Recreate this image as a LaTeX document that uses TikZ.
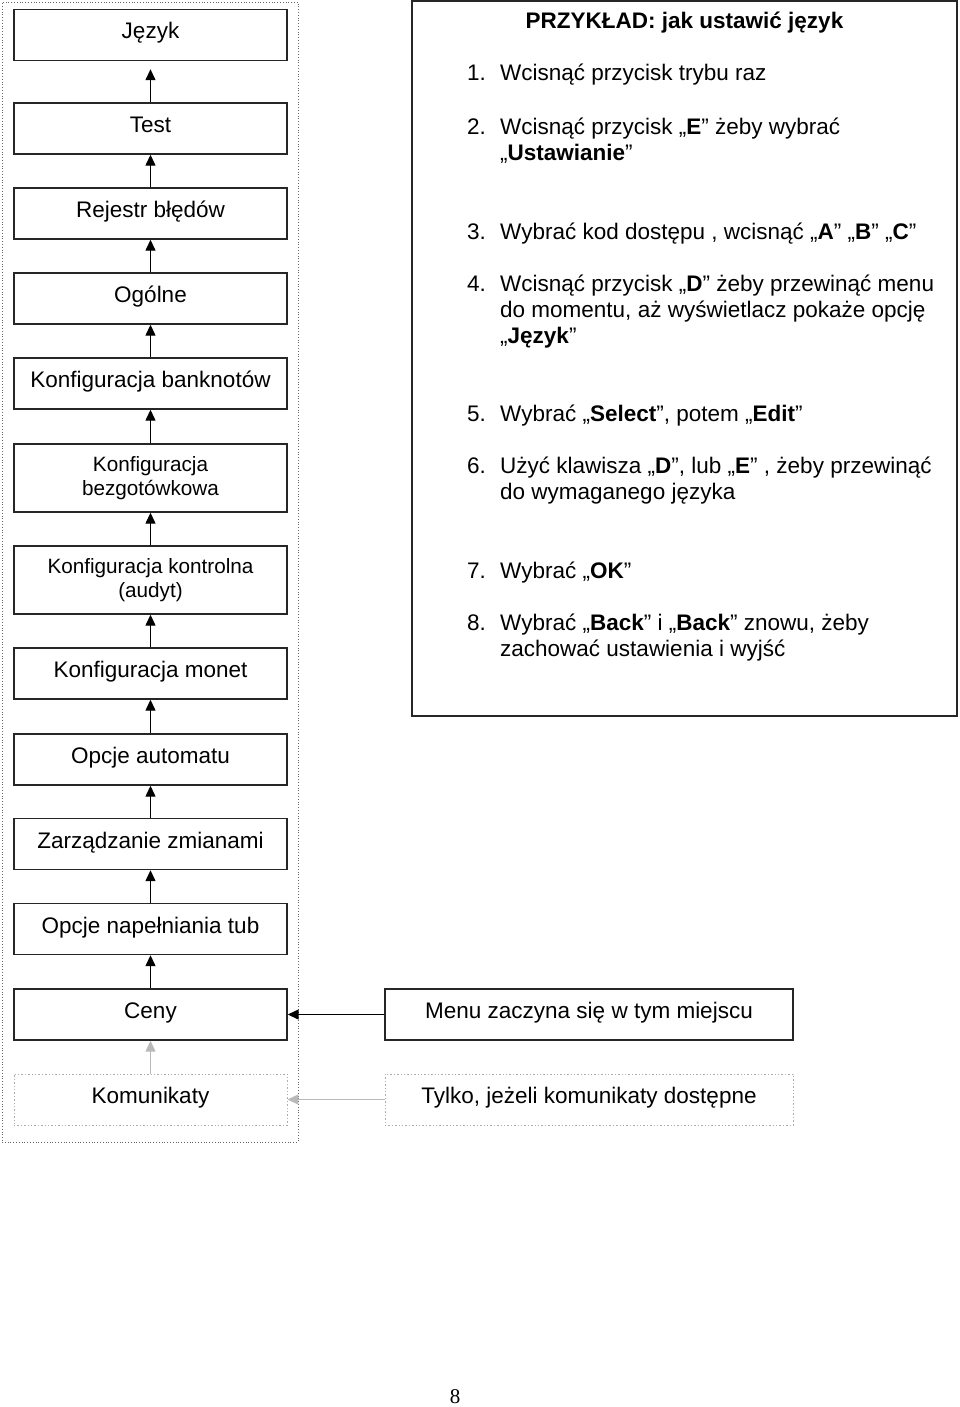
\documentclass[tikz,border=0pt]{standalone}
\usepackage{fontspec}
\setmainfont{Liberation Sans}
\newfontfamily\pnserif{Liberation Serif}
\usetikzlibrary{arrows.meta}
\begin{document}
\begin{tikzpicture}[x=1pt,y=-1pt,
  basebox/.style={draw=black!85, line width=1.4pt, minimum width=273pt, minimum height=51pt,
    inner sep=0pt, align=center},
  box/.style={basebox, text height=16pt, text depth=8pt, font=\fontsize{22.5}{26}\selectfont},
  tallbox/.style={basebox, minimum height=68pt, font=\fontsize{20.7}{24}\selectfont},
  ghostbox/.style={box, draw=gray!65, dotted, line width=0.9pt},
  notebox/.style={box, minimum width=408pt},
  arr/.style={line width=1.3pt, -{Triangle[width=10pt,length=11pt]}},
  garr/.style={arr, draw=gray!55},
  frame/.style={draw=gray!80!black, dotted, line width=0.8pt, inner sep=0pt},
  panelbox/.style={draw=black!85, line width=2pt, inner sep=0pt},
  txt/.style={anchor=west, inner sep=0pt, text height=16pt, text depth=0pt,
    font=\fontsize{22.5}{26}\selectfont},
]
\useasboundingbox (0,0) rectangle (960,1407);

% outer dotted frame
\node[frame, minimum width=296pt, minimum height=1140pt] (outer) at (150,572) {};

% left column
\node[box] (jezyk) at (150.5,35) {Język};
\node[box] (test) at (150.5,128.5) {Test};
\node[box] (rejestr) at (150.5,213.5) {Rejestr błędów};
\node[box] (ogolne) at (150.5,298.5) {Ogólne};
\node[box] (bank) at (150.5,383.5) {Konfiguracja banknotów};
\node[tallbox] (bezgot) at (150.5,478) {Konfiguracja\\bezgotówkowa};
\node[tallbox] (kontr) at (150.5,580) {Konfiguracja kontrolna\\(audyt)};
\node[box] (monet) at (150.5,673.5) {Konfiguracja monet};
\node[box] (opcje) at (150.5,759.5) {Opcje automatu};
\node[box] (zarz) at (150.5,844) {Zarządzanie zmianami};
\node[box] (tub) at (150.5,929) {Opcje napełniania tub};
\node[box] (ceny) at (150.5,1014.5) {Ceny};
\node[ghostbox] (komun) at (150.5,1099.5) {Komunikaty};

% right notes
\node[notebox] (menu) at (589,1014.5) {Menu zaczyna się w tym miejscu};
\node[ghostbox, minimum width=408pt] (tylko) at (589,1099.5) {Tylko, jeżeli komunikaty dostępne};

% arrows
\draw[arr, shorten >=8pt] (test) -- (jezyk);
\draw[arr] (rejestr) -- (test);
\draw[arr] (ogolne) -- (rejestr);
\draw[arr] (bank) -- (ogolne);
\draw[arr] (bezgot) -- (bank);
\draw[arr] (kontr) -- (bezgot);
\draw[arr] (monet) -- (kontr);
\draw[arr] (opcje) -- (monet);
\draw[arr] (zarz) -- (opcje);
\draw[arr] (tub) -- (zarz);
\draw[arr] (ceny) -- (tub);
\draw[garr] (komun) -- (ceny);
\draw[arr] (menu) -- (ceny);
\draw[garr] (tylko) -- (komun);

% example panel
\node[panelbox, minimum width=545pt, minimum height=715pt] (panel) at (684.5,358.5) {};
\node[txt, anchor=center] (title) at (684.5,21) {\textbf{PRZYKŁAD: jak ustawić język}};

\node[txt] (n1) at (467,73) {1.};
\node[txt] (t1) at (500,73) {Wcisnąć przycisk trybu raz};
\node[txt] (n2) at (467,127) {2.};
\node[txt] (t2a) at (500,127) {Wcisnąć przycisk „\textbf{E}” żeby wybrać};
\node[txt] (t2b) at (500,153) {„\textbf{Ustawianie}”};
\node[txt] (n3) at (467,231) {3.};
\node[txt] (t3) at (500,231) {Wybrać kod dostępu , wcisnąć „\textbf{A}” „\textbf{B}” „\textbf{C}”};
\node[txt] (n4) at (467,283) {4.};
\node[txt] (t4a) at (500,283) {Wcisnąć przycisk „\textbf{D}” żeby przewinąć menu};
\node[txt] (t4b) at (500,309) {do momentu, aż wyświetlacz pokaże opcję};
\node[txt] (t4c) at (500,335) {„\textbf{Język}”};
\node[txt] (n5) at (467,413) {5.};
\node[txt] (t5) at (500,413) {Wybrać „\textbf{Select}”, potem „\textbf{Edit}”};
\node[txt] (n6) at (467,465) {6.};
\node[txt] (t6a) at (500,465) {Użyć klawisza „\textbf{D}”, lub „\textbf{E}” , żeby przewinąć};
\node[txt] (t6b) at (500,491) {do wymaganego języka};
\node[txt] (n7) at (467,570) {7.};
\node[txt] (t7) at (500,570) {Wybrać „\textbf{OK}”};
\node[txt] (n8) at (467,622) {8.};
\node[txt] (t8a) at (500,622) {Wybrać „\textbf{Back}” i „\textbf{Back}” znowu, żeby};
\node[txt] (t8b) at (500,648) {zachować ustawienia i wyjść};

% page number
\node[inner sep=0pt, font=\pnserif\fontsize{21}{24}\selectfont] (pagenum) at (455,1397) {8};
\end{tikzpicture}
\end{document}
